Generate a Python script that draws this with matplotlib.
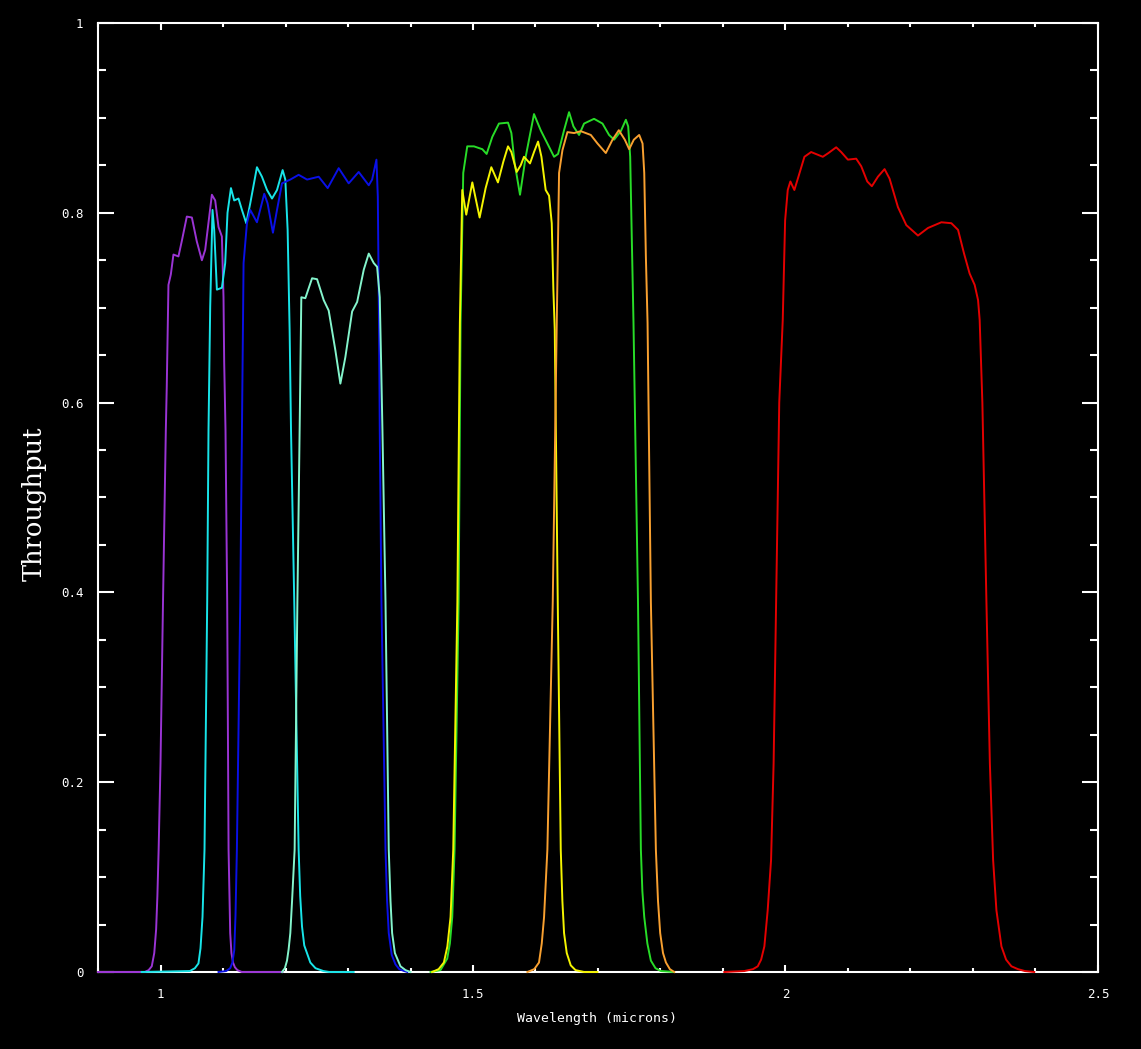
import matplotlib
matplotlib.use("Agg")
import matplotlib.pyplot as plt
from matplotlib.ticker import MultipleLocator, FormatStrFormatter

# filter throughput curves
wl_purple = [0.900, 0.975, 0.981, 0.986, 0.990, 0.993, 0.995, 0.997, 1.000, 1.004, 1.0085, 1.0100,
             1.0127, 1.0165, 1.0207, 1.0287, 1.0340, 1.0421, 1.0502, 1.0580, 1.0662, 1.0715, 1.0822,
             1.0875, 1.0928, 1.0982, 1.1008, 1.1019, 1.1040, 1.1067, 1.1089, 1.1105, 1.1115, 1.1135,
             1.1160, 1.1190, 1.1230, 1.1300, 1.1950]
tp_purple = [0, 0, 0.002, 0.006, 0.02, 0.045, 0.08, 0.129, 0.22, 0.39, 0.571, 0.617,
             0.724, 0.735, 0.756, 0.754, 0.770, 0.796, 0.795, 0.770, 0.750, 0.761, 0.819,
             0.813, 0.785, 0.775, 0.711, 0.642, 0.571, 0.39, 0.129, 0.075, 0.041, 0.02,
             0.01, 0.005, 0.002, 0, 0]

wl_cyan = [0.970, 1.047, 1.055, 1.0607, 1.0640, 1.0672, 1.0704, 1.0747, 1.0768, 1.0795, 1.0832,
           1.0859, 1.0902, 1.0982, 1.1035, 1.1072, 1.1127, 1.1179, 1.1248, 1.1303, 1.1372, 1.1436,
           1.1543, 1.1623, 1.1704, 1.1784, 1.1864, 1.1954, 1.1997, 1.2034, 1.2066, 1.2088, 1.2140,
           1.2210, 1.2235, 1.2264, 1.2300, 1.2397, 1.2480, 1.2606, 1.2700, 1.3090]
tp_cyan = [0, 0.001, 0.004, 0.009, 0.025, 0.058, 0.129, 0.39, 0.571, 0.701, 0.803,
           0.782, 0.719, 0.721, 0.747, 0.800, 0.826, 0.813, 0.815, 0.803, 0.789, 0.810,
           0.848, 0.838, 0.824, 0.815, 0.824, 0.845, 0.835, 0.782, 0.676, 0.571, 0.39,
           0.129, 0.08, 0.048, 0.028, 0.01, 0.004, 0.001, 0, 0]

wl_blue = [1.0928, 1.1050, 1.1115, 1.1150, 1.1180, 1.1200, 1.1222, 1.1276, 1.1303, 1.1329, 1.1383,
           1.1436, 1.1543, 1.1660, 1.1713, 1.1799, 1.1864, 1.1944, 1.2077, 1.2210, 1.2345, 1.2531,
           1.2675, 1.2851, 1.3011, 1.3171, 1.3332, 1.3386, 1.3455, 1.3477, 1.3498, 1.3508, 1.3535,
           1.3600, 1.3625, 1.3652, 1.3700, 1.3760, 1.3820, 1.3900, 1.3950]
tp_blue = [0, 0.001, 0.004, 0.01, 0.023, 0.06, 0.129, 0.39, 0.571, 0.747, 0.789,
           0.803, 0.790, 0.820, 0.810, 0.779, 0.803, 0.831, 0.835, 0.840, 0.835, 0.838,
           0.826, 0.847, 0.831, 0.843, 0.829, 0.835, 0.856, 0.817, 0.669, 0.571, 0.39,
           0.129, 0.075, 0.041, 0.018, 0.008, 0.003, 0.001, 0]

wl_aqua = [1.1944, 1.1990, 1.2024, 1.2050, 1.2077, 1.2105, 1.2146, 1.2190, 1.2226, 1.2253, 1.2317,
           1.2425, 1.2505, 1.2611, 1.2691, 1.2798, 1.2878, 1.2958, 1.3066, 1.3146, 1.3252, 1.3332,
           1.3412, 1.3466, 1.3508, 1.3530, 1.3551, 1.3600, 1.3652, 1.3680, 1.3706, 1.3750, 1.3840,
           1.3920, 1.4000]
tp_aqua = [0, 0.004, 0.012, 0.024, 0.041, 0.075, 0.129, 0.39, 0.571, 0.711, 0.710,
           0.731, 0.730, 0.708, 0.697, 0.655, 0.620, 0.648, 0.696, 0.706, 0.740, 0.757,
           0.747, 0.743, 0.711, 0.641, 0.571, 0.39, 0.129, 0.075, 0.041, 0.02, 0.006,
           0.002, 0]

wl_yellow = [1.4346, 1.4450, 1.4534, 1.4590, 1.4641, 1.4684, 1.4750, 1.4790, 1.4828, 1.4892, 1.4989,
             1.5106, 1.5202, 1.5293, 1.5399, 1.5486, 1.5560, 1.5614, 1.5699, 1.5763, 1.5816, 1.5912,
             1.5976, 1.6041, 1.6095, 1.6163, 1.6217, 1.6260, 1.6286, 1.6308, 1.6356, 1.6404, 1.6430,
             1.6457, 1.6500, 1.6564, 1.6640, 1.6777, 1.6990]
tp_yellow = [0, 0.003, 0.01, 0.027, 0.058, 0.129, 0.39, 0.684, 0.824, 0.798, 0.832,
             0.795, 0.826, 0.848, 0.832, 0.854, 0.870, 0.864, 0.843, 0.850, 0.859, 0.852,
             0.864, 0.875, 0.859, 0.824, 0.818, 0.789, 0.719, 0.677, 0.39, 0.129, 0.075,
             0.041, 0.02, 0.007, 0.002, 0, 0]

wl_green = [1.4320, 1.4480, 1.4587, 1.4630, 1.4668, 1.4705, 1.4770, 1.4801, 1.4844, 1.4908, 1.5015,
            1.5149, 1.5218, 1.5309, 1.5415, 1.5560, 1.5614, 1.5667, 1.5752, 1.5843, 1.5976, 1.6083,
            1.6190, 1.6297, 1.6361, 1.6457, 1.6537, 1.6607, 1.6697, 1.6777, 1.6937, 1.7072, 1.7177,
            1.7258, 1.7365, 1.7446, 1.7483, 1.7515, 1.7536, 1.7568, 1.7640, 1.7686, 1.7710, 1.7740,
            1.7790, 1.7846, 1.7920, 1.8006, 1.8215]
tp_green = [0, 0.002, 0.014, 0.03, 0.058, 0.129, 0.39, 0.684, 0.842, 0.870, 0.870,
            0.867, 0.862, 0.880, 0.894, 0.895, 0.884, 0.852, 0.819, 0.859, 0.904, 0.887,
            0.873, 0.859, 0.862, 0.887, 0.906, 0.891, 0.882, 0.894, 0.899, 0.894, 0.882,
            0.877, 0.886, 0.898, 0.891, 0.859, 0.789, 0.684, 0.39, 0.129, 0.085, 0.058,
            0.03, 0.012, 0.004, 0.001, 0]

wl_orange = [1.5870, 1.5980, 1.6056, 1.6100, 1.6137, 1.6190, 1.6276, 1.6340, 1.6377, 1.6431, 1.6511,
             1.6618, 1.6724, 1.6885, 1.6992, 1.7125, 1.7232, 1.7333, 1.7429, 1.7499, 1.7573, 1.7659,
             1.7713, 1.7740, 1.7766, 1.7793, 1.7846, 1.7926, 1.7960, 1.7995, 1.8040, 1.8087, 1.8150,
             1.8220]
tp_orange = [0, 0.003, 0.01, 0.03, 0.058, 0.129, 0.39, 0.684, 0.842, 0.866, 0.885,
             0.884, 0.886, 0.882, 0.873, 0.863, 0.877, 0.887, 0.877, 0.867, 0.877, 0.882,
             0.873, 0.842, 0.754, 0.684, 0.39, 0.129, 0.075, 0.041, 0.02, 0.01, 0.003,
             0]

wl_red = [1.9021, 1.9341, 1.9480, 1.9556, 1.9610, 1.9662, 1.9715, 1.9769, 1.9810, 1.9850, 1.9900,
          1.9956, 1.9994, 2.0036, 2.0078, 2.0142, 2.0207, 2.0303, 2.0410, 2.0597, 2.0688, 2.0811,
          2.0891, 2.0998, 2.1131, 2.1212, 2.1308, 2.1382, 2.1479, 2.1585, 2.1665, 2.1799, 2.1933,
          2.2120, 2.2280, 2.2494, 2.2654, 2.2761, 2.2857, 2.2946, 2.3027, 2.3081, 2.3107, 2.3150,
          2.3215, 2.3270, 2.3322, 2.3375, 2.3455, 2.3530, 2.3615, 2.3720, 2.3830, 2.3980]
tp_red = [0, 0.001, 0.003, 0.006, 0.013, 0.027, 0.065, 0.118, 0.22, 0.39, 0.60,
          0.687, 0.792, 0.824, 0.833, 0.824, 0.838, 0.859, 0.864, 0.859, 0.863, 0.869,
          0.864, 0.856, 0.857, 0.849, 0.833, 0.828, 0.838, 0.846, 0.836, 0.806, 0.787,
          0.776, 0.784, 0.790, 0.789, 0.782, 0.757, 0.736, 0.724, 0.708, 0.687, 0.60,
          0.39, 0.22, 0.118, 0.065, 0.027, 0.013, 0.006, 0.003, 0.001, 0]

curves = [
    (wl_purple, tp_purple, '#9a34d4'),
    (wl_cyan, tp_cyan, '#18e4e8'),
    (wl_blue, tp_blue, '#0a10e6'),
    (wl_aqua, tp_aqua, '#84f4cc'),
    (wl_green, tp_green, '#28dc28'),
    (wl_yellow, tp_yellow, '#f4f400'),
    (wl_orange, tp_orange, '#f8a030'),
    (wl_red, tp_red, '#e40000'),
]

fig = plt.figure(figsize=(11.41, 10.49), dpi=100, facecolor='black')
ax = fig.add_axes([0.0859, 0.0734, 0.8764, 0.9047], facecolor='black')

for wl, tp, c in curves:
    ax.plot(wl, tp, color=c, lw=1.4, zorder=3, clip_on=False)

ax.set_xlim(0.9, 2.5)
ax.set_ylim(0, 1)

for s in ax.spines.values():
    s.set_color('white')
    s.set_linewidth(1.5)

ax.xaxis.set_major_locator(MultipleLocator(0.5))
ax.xaxis.set_minor_locator(MultipleLocator(0.1))
ax.yaxis.set_major_locator(MultipleLocator(0.2))
ax.yaxis.set_minor_locator(MultipleLocator(0.05))
ax.xaxis.set_major_formatter(FormatStrFormatter('%g'))
ax.yaxis.set_major_formatter(FormatStrFormatter('%g'))

ax.tick_params(axis='both', which='both', direction='in', colors='white',
               top=True, right=True, width=1.5,
               labelsize=9, labelfontfamily='DejaVu Sans Mono')
ax.tick_params(axis='x', which='major', length=5, pad=11.5)
ax.tick_params(axis='x', which='minor', length=2.8)
ax.tick_params(axis='y', which='major', length=11.5, pad=10.5)
ax.tick_params(axis='y', which='minor', length=5.8)

ax.set_xlabel('Wavelength (microns)', color='white', fontsize=9.5,
              family='DejaVu Sans Mono', va='center')
ax.xaxis.set_label_coords(0.4987, -0.0495)
ax.set_ylabel('Throughput', color='white', fontsize=18.5, family='DejaVu Serif',
              va='center')
ax.yaxis.set_label_coords(-0.064, 0.493)

fig.savefig('out.png', dpi=100, facecolor='black')
